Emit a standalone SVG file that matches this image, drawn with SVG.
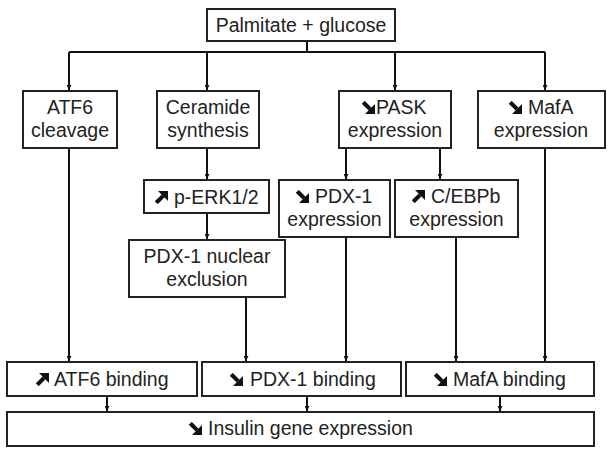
<svg xmlns="http://www.w3.org/2000/svg" width="614" height="454" viewBox="0 0 614 454">
<defs>
<marker id="ah" markerWidth="6" markerHeight="5" refX="5" refY="2.5" orient="auto" markerUnits="userSpaceOnUse">
<path d="M0,0 L5,2.5 L0,5 Z" fill="#111"/>
</marker>
<symbol id="se" viewBox="0 0 12 12">
<path d="M1.2,1.2 L7.5,7.5" stroke="#111" stroke-width="3.8" fill="none"/>
<path d="M12,12 L12,2.8 L2.8,12 Z" fill="#111"/>
</symbol>
<symbol id="ne" viewBox="0 0 12 12">
<path d="M1.2,10.8 L7.5,4.5" stroke="#111" stroke-width="3.8" fill="none"/>
<path d="M12,0 L12,9.2 L2.8,0 Z" fill="#111"/>
</symbol>
<style>
rect{fill:#fff;stroke:#222;stroke-width:2}
text{font-family:"Liberation Sans",Arial,sans-serif;font-size:19.5px;fill:#222;text-anchor:middle}
text.s{text-anchor:start}
#connectors path{fill:none;stroke:#111;stroke-width:2}
.arr{marker-end:url(#ah)}
</style>
</defs>
<rect x="0" y="0" width="614" height="454" style="fill:#fff;stroke:none"/>
<g id="connectors">
<path d="M307,41 V52 M69,52 H545"/>
<path class="arr" d="M69,52 V90"/>
<path class="arr" d="M207,52 V90"/>
<path class="arr" d="M395,52 V90"/>
<path class="arr" d="M545,52 V90"/>
<path class="arr" d="M69,148 V361"/>
<path class="arr" d="M207,148 V179"/>
<path class="arr" d="M207,213 V239"/>
<path class="arr" d="M246,297 V361"/>
<path class="arr" d="M346,148 V179"/>
<path class="arr" d="M440,148 V179"/>
<path class="arr" d="M346,237 V361"/>
<path class="arr" d="M456,237 V361"/>
<path class="arr" d="M545,148 V361"/>
<path class="arr" d="M107,396 V411"/>
<path class="arr" d="M307,396 V411"/>
<path class="arr" d="M500,396 V411"/>
</g>
<g id="palmitate"><rect x="207" y="9" width="188" height="32"/><text x="301" y="32">Palmitate + glucose</text></g>
<g id="atf6-cleavage"><rect x="23" y="91" width="94" height="57"/><text x="70" y="114">ATF6</text><text x="70" y="137">cleavage</text></g>
<g id="ceramide"><rect x="157" y="91" width="102" height="57"/><text x="208" y="114">Ceramide</text><text x="208" y="137">synthesis</text></g>
<g id="pask"><rect x="339" y="91" width="112" height="57"/><use href="#se" x="362" y="101" width="13" height="13"/><text class="s" x="376" y="114">PASK</text><text x="395" y="137">expression</text></g>
<g id="mafa-expr"><rect x="478" y="91" width="127" height="57"/><use href="#se" x="509" y="101" width="13" height="13"/><text class="s" x="528" y="114">MafA</text><text x="541" y="137">expression</text></g>
<g id="perk"><rect x="144" y="180" width="125" height="33"/><use href="#ne" x="155" y="191" width="13" height="13"/><text class="s" x="174" y="204">p-ERK1/2</text></g>
<g id="pdx1-excl"><rect x="129" y="240" width="156" height="57"/><text x="207" y="263">PDX-1 nuclear</text><text x="207" y="286">exclusion</text></g>
<g id="pdx1-expr"><rect x="279" y="180" width="111" height="57"/><use href="#se" x="296" y="190" width="13" height="13"/><text class="s" x="315" y="203">PDX-1</text><text x="334.5" y="226">expression</text></g>
<g id="cebpb"><rect x="395" y="180" width="123" height="57"/><use href="#ne" x="412" y="190" width="13" height="13"/><text class="s" x="431" y="203">C/EBPb</text><text x="456.5" y="226">expression</text></g>
<g id="atf6-binding"><rect x="7" y="362" width="190" height="34"/><use href="#ne" x="36" y="373" width="13" height="13"/><text class="s" x="54" y="386">ATF6 binding</text></g>
<g id="pdx1-binding"><rect x="202" y="362" width="199" height="34"/><use href="#se" x="230" y="373" width="13" height="13"/><text class="s" x="250" y="386">PDX-1 binding</text></g>
<g id="mafa-binding"><rect x="406" y="362" width="188" height="34"/><use href="#se" x="434" y="373" width="13" height="13"/><text class="s" x="453" y="386">MafA binding</text></g>
<g id="insulin"><rect x="7" y="412" width="587" height="34"/><use href="#se" x="189" y="422" width="13" height="13"/><text class="s" x="208" y="435">Insulin gene expression</text></g>
</svg>
